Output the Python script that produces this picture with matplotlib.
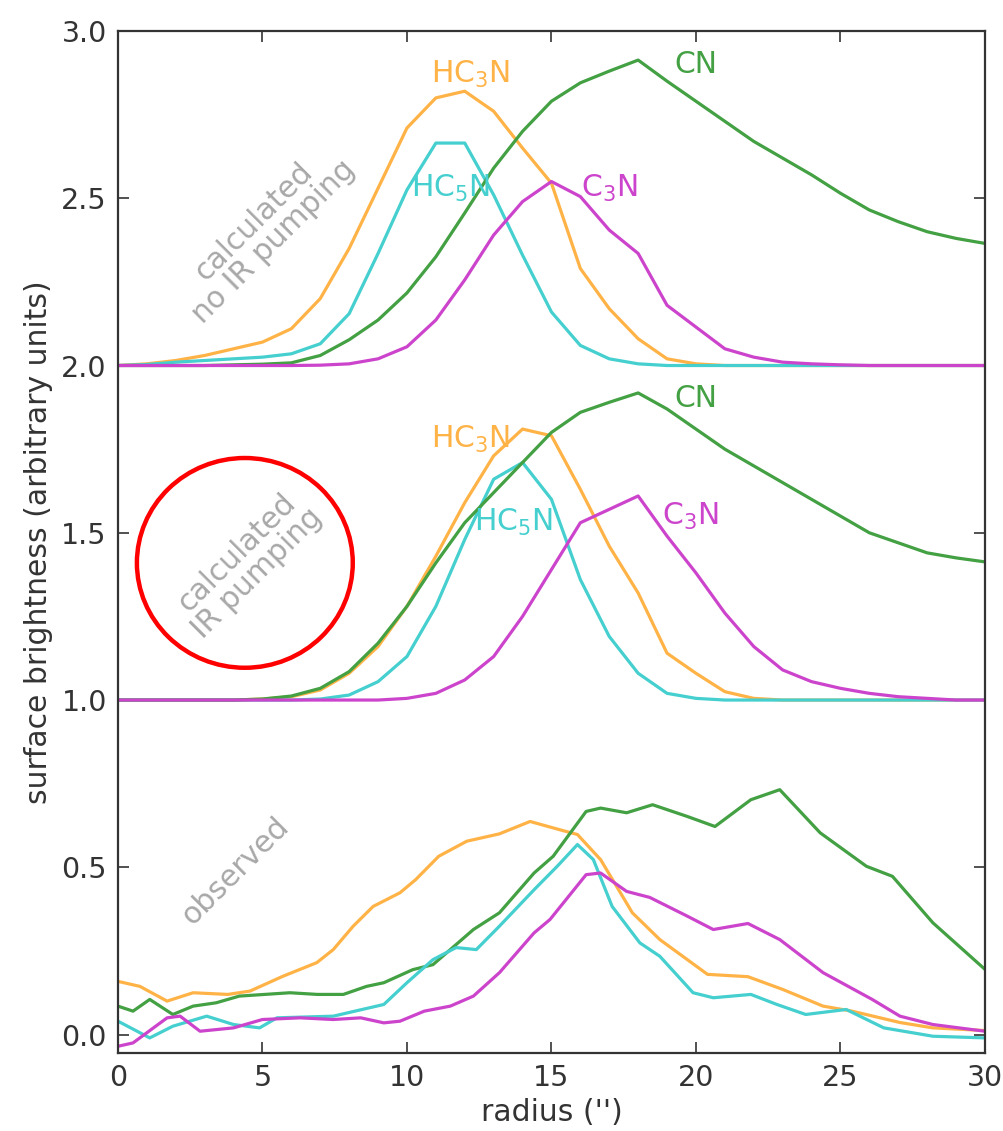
import matplotlib
matplotlib.use("Agg")
import matplotlib.pyplot as plt
from matplotlib.patches import Ellipse

# radial grid of the model profiles (arcsec)
radius = list(range(31))

# model without IR pumping (offset +2)
hc3n_noir = [2.0, 2.005, 2.015, 2.03, 2.05, 2.07, 2.11, 2.20, 2.35, 2.53, 2.71, 2.80, 2.82,
             2.76, 2.65, 2.545, 2.29, 2.17, 2.08, 2.02, 2.005, 2.0, 2.0, 2.0, 2.0, 2.0, 2.0,
             2.0, 2.0, 2.0, 2.0]
hc5n_noir = [2.0, 2.003, 2.01, 2.015, 2.02, 2.025, 2.035, 2.065, 2.155, 2.335, 2.525, 2.665,
             2.665, 2.51, 2.33, 2.16, 2.06, 2.02, 2.005, 2.0, 2.0, 2.0, 2.0, 2.0, 2.0, 2.0,
             2.0, 2.0, 2.0, 2.0, 2.0]
cn_noir = [2.0, 2.0, 2.0, 2.0, 2.002, 2.004, 2.008, 2.03, 2.077, 2.136, 2.217, 2.325, 2.456,
           2.59, 2.70, 2.79, 2.845, 2.88, 2.913, 2.85, 2.79, 2.73, 2.67, 2.62, 2.57, 2.515,
           2.465, 2.43, 2.40, 2.38, 2.365]
c3n_noir = [2.0, 2.0, 2.0, 2.0, 2.0, 2.0, 2.0, 2.001, 2.005, 2.02, 2.056, 2.136, 2.256, 2.39,
            2.49, 2.55, 2.505, 2.405, 2.335, 2.18, 2.115, 2.05, 2.025, 2.01, 2.005, 2.002,
            2.0, 2.0, 2.0, 2.0, 2.0]

# model with IR pumping (offset +1)
hc3n_ir = [1.0, 1.0, 1.0, 1.0, 1.0, 1.003, 1.01, 1.03, 1.08, 1.16, 1.28, 1.43, 1.59, 1.73,
           1.81, 1.79, 1.63, 1.46, 1.32, 1.14, 1.08, 1.025, 1.005, 1.0, 1.0, 1.0, 1.0, 1.0,
           1.0, 1.0, 1.0]
hc5n_ir = [1.0, 1.0, 1.0, 1.0, 1.0, 1.0, 1.0, 1.003, 1.015, 1.055, 1.13, 1.28, 1.48, 1.66,
           1.71, 1.60, 1.36, 1.19, 1.08, 1.02, 1.005, 1.0, 1.0, 1.0, 1.0, 1.0, 1.0, 1.0, 1.0,
           1.0, 1.0]
cn_ir = [1.0, 1.0, 1.0, 1.0, 1.0, 1.003, 1.012, 1.035, 1.085, 1.17, 1.28, 1.41, 1.53, 1.62,
         1.71, 1.80, 1.86, 1.89, 1.918, 1.87, 1.81, 1.75, 1.70, 1.65, 1.60, 1.55, 1.50, 1.47,
         1.44, 1.425, 1.413]
c3n_ir = [1.0, 1.0, 1.0, 1.0, 1.0, 1.0, 1.0, 1.0, 1.0, 1.0, 1.005, 1.02, 1.06, 1.13, 1.25,
          1.39, 1.53, 1.57, 1.61, 1.49, 1.38, 1.26, 1.16, 1.09, 1.055, 1.035, 1.02, 1.01,
          1.005, 1.0, 1.0]

# observed profiles
hc3n_obs_r = [0, 0.76, 1.7, 2.6, 3.8, 4.57, 5.7, 6.88, 7.45, 8.14, 8.83, 9.76, 10.3, 11.1,
              12.07, 13.2, 14.26, 15.3, 15.9, 16.7, 17.8, 18.75, 20.4, 21.8, 23.0, 24.4,
              25.4, 27.06, 28.2, 30]
hc3n_obs = [0.159, 0.144, 0.10, 0.125, 0.12, 0.13, 0.174, 0.215, 0.254, 0.324, 0.383, 0.424,
            0.463, 0.533, 0.578, 0.60, 0.637, 0.612, 0.598, 0.523, 0.364, 0.284, 0.18, 0.173,
            0.135, 0.085, 0.07, 0.036, 0.02, 0.012]
cn_obs_r = [0, 0.52, 1.1, 1.9, 2.6, 3.4, 4.2, 5.95, 6.9, 7.8, 8.6, 9.2, 10.2, 10.9, 12.3,
            13.2, 14.4, 15.06, 16.2, 16.7, 17.6, 18.5, 19.7, 20.66, 21.9, 22.9, 24.3, 25.9,
            26.8, 28.2, 30]
cn_obs = [0.085, 0.07, 0.105, 0.06, 0.085, 0.095, 0.115, 0.125, 0.12, 0.12, 0.144, 0.155,
          0.194, 0.209, 0.314, 0.364, 0.483, 0.533, 0.667, 0.677, 0.663, 0.687, 0.652, 0.622,
          0.702, 0.732, 0.603, 0.503, 0.473, 0.334, 0.195]
hc5n_obs_r = [0, 1.1, 1.9, 3.07, 4.0, 4.9, 5.5, 7.45, 9.2, 10.0, 10.9, 11.7, 12.4, 13.2,
              14.4, 15.2, 15.9, 16.45, 17.1, 18.06, 18.75, 19.9, 20.6, 21.9, 22.8, 23.8,
              25.2, 26.5, 28.2, 30]
hc5n_obs = [0.04, -0.01, 0.025, 0.055, 0.03, 0.02, 0.05, 0.055, 0.09, 0.155, 0.224, 0.26,
            0.254, 0.324, 0.433, 0.503, 0.568, 0.523, 0.383, 0.274, 0.234, 0.125, 0.11, 0.12,
            0.09, 0.06, 0.075, 0.02, -0.005, -0.01]
c3n_obs_r = [0, 0.52, 1.7, 2.15, 2.84, 4.0, 5.0, 6.3, 7.45, 8.4, 9.2, 9.76, 10.6, 11.5,
             12.3, 13.2, 14.4, 14.95, 16.2, 16.7, 17.6, 18.4, 19.7, 20.6, 21.8, 22.9, 24.4,
             26.1, 27.06, 28.2, 30]
c3n_obs = [-0.035, -0.025, 0.05, 0.055, 0.01, 0.02, 0.045, 0.05, 0.045, 0.05, 0.035, 0.04,
           0.07, 0.085, 0.115, 0.185, 0.304, 0.344, 0.478, 0.483, 0.428, 0.41, 0.354, 0.314,
           0.332, 0.284, 0.185, 0.105, 0.055, 0.03, 0.01]

c_hc3n = "#ffb347"
c_hc5n = "#45cfcf"
c_cn = "#43a043"
c_c3n = "#cc44cc"

fig = plt.figure(figsize=(10.04, 11.31), dpi=100)
ax = fig.add_axes([0.1175, 0.069, 0.8635, 0.9036])

lw = 2.3
for ys, c in [(hc3n_noir, c_hc3n), (hc5n_noir, c_hc5n), (cn_noir, c_cn), (c3n_noir, c_c3n),
              (hc3n_ir, c_hc3n), (hc5n_ir, c_hc5n), (cn_ir, c_cn), (c3n_ir, c_c3n)]:
    ax.plot(radius, ys, color=c, lw=lw)
for rr, ys, c in [(hc3n_obs_r, hc3n_obs, c_hc3n), (cn_obs_r, cn_obs, c_cn),
                  (hc5n_obs_r, hc5n_obs, c_hc5n), (c3n_obs_r, c3n_obs, c_c3n)]:
    ax.plot(rr, ys, color=c, lw=lw, solid_joinstyle="round")

fs = 21.5
# species labels
ax.text(12.2, 2.87, "HC$_3$N", color=c_hc3n, fontsize=fs, ha="center", va="center")
ax.text(20.0, 2.90, "CN", color=c_cn, fontsize=fs, ha="center", va="center")
ax.text(11.5, 2.53, "HC$_5$N", color=c_hc5n, fontsize=fs, ha="center", va="center")
ax.text(17.0, 2.53, "C$_3$N", color=c_c3n, fontsize=fs, ha="center", va="center")
ax.text(12.2, 1.78, "HC$_3$N", color=c_hc3n, fontsize=fs, ha="center", va="center")
ax.text(20.0, 1.90, "CN", color=c_cn, fontsize=fs, ha="center", va="center")
ax.text(13.7, 1.53, "HC$_5$N", color=c_hc5n, fontsize=fs, ha="center", va="center")
ax.text(19.8, 1.55, "C$_3$N", color=c_c3n, fontsize=fs, ha="center", va="center")

# panel labels
gray = "#a8a8a8"
ax.text(5.05, 2.40, "calculated\nno IR pumping", color=gray, fontsize=fs, rotation=45,
        ha="center", va="center", multialignment="center", linespacing=1.0)
ax.text(4.45, 1.41, "calculated\nIR pumping", color=gray, fontsize=fs, rotation=45,
        ha="center", va="center", multialignment="center", linespacing=1.0)
ax.text(4.07, 0.49, "observed", color=gray, fontsize=fs, rotation=45,
        ha="center", va="center")

ax.add_patch(Ellipse((4.39, 1.41), 7.47, 0.627, fill=False, edgecolor="#ff0000", lw=3.2,
                     clip_on=False, zorder=5))

ax.set_xlim(0, 30)
ax.set_ylim(-0.055, 3.0)
ax.set_xticks([0, 5, 10, 15, 20, 25, 30])
ax.set_yticks([0.0, 0.5, 1.0, 1.5, 2.0, 2.5, 3.0])
ax.set_yticklabels(["0.0", "0.5", "1.0", "1.5", "2.0", "2.5", "3.0"])
ax.tick_params(direction="in", top=True, right=True, length=8, width=1.2,
               labelsize=20.5, colors="#333333", pad=8)
for s in ax.spines.values():
    s.set_linewidth(1.6)
    s.set_color("#333333")
ax.set_xlabel("radius ('')", fontsize=fs, color="#333333", labelpad=4)
ax.set_ylabel("surface brightness (arbitrary units)", fontsize=fs, color="#333333",
              labelpad=6)

fig.savefig("out.png", dpi=100)
